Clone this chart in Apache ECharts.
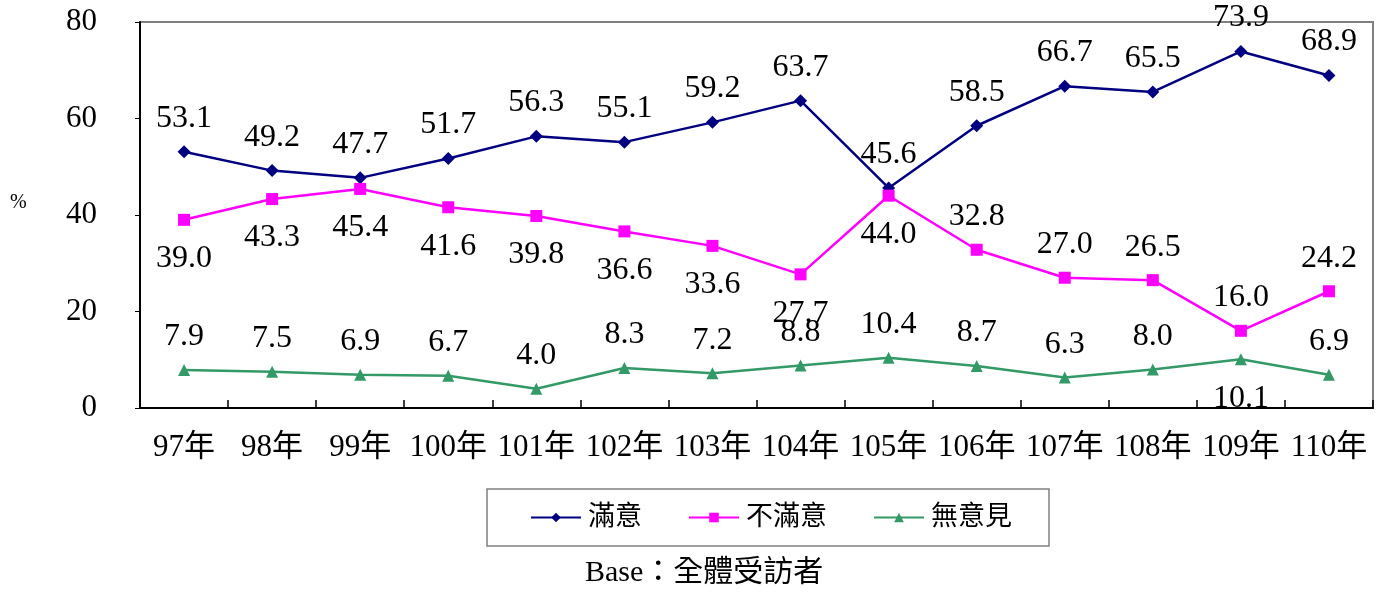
<!DOCTYPE html>
<html><head><meta charset="utf-8">
<script src="https://cdn.jsdelivr.net/npm/echarts@6/dist/echarts.min.js"></script>
<style>html,body{margin:0;padding:0;background:#fff}#c{width:1383px;height:594px}</style>
</head><body><div id="c"></div>
<script>
const categories = ['97年','98年','99年','100年','101年','102年','103年','104年','105年','106年','107年','108年','109年','110年'];
const satisfied = [53.1,49.2,47.7,51.7,56.3,55.1,59.2,63.7,45.6,58.5,66.7,65.5,73.9,68.9];
const dissatisfied = [39.0,43.3,45.4,41.6,39.8,36.6,33.6,27.7,44.0,32.8,27.0,26.5,16.0,24.2];
const noOpinion = [7.9,7.5,6.9,6.7,4.0,8.3,7.2,8.8,10.4,8.7,6.3,8.0,10.1,6.9];
const yTicks = [0,20,40,60,80];
const seriesNames = ['滿意','不滿意','無意見'];
// label placement per point
const satPos = ['top','top','top','top','top','top','top','top','top','top','top','top','top','top'];
const disPos = ['bottom','bottom','bottom','bottom','bottom','bottom','bottom','bottom','bottom','top','top','top','top','top'];
const noPos = ['top','top','top','top','top','top','top','top','top','top','top','top','bottom','top'];

const FONT = "'Liberation Serif', 'Noto Sans CJK TC', serif";
function mk(vals, pos){
  return vals.map((v,i)=>({value:v, label:{position:pos[i], distance: pos[i]==='top' ? 11 : 17}}));
}
const chart = echarts.init(document.getElementById('c'));
const labelBase = {show:true, fontFamily:FONT, fontSize:32, color:'#000', formatter:p=>p.value.toFixed(1)};
chart.setOption({
  animation:false,
  grid:{left:140, right:10, top:22, bottom:186, show:true, borderColor:'#808080', borderWidth:2, backgroundColor:'#fff'},
  xAxis:{type:'category', data:categories, boundaryGap:true,
    axisLine:{lineStyle:{color:'#000', width:2}},
    axisTick:{show:true, inside:true, interval:0, length:8, lineStyle:{color:'#000', width:1.5}},
    axisLabel:{fontFamily:FONT, fontSize:31, color:'#000', margin:24, interval:0}},
  yAxis:{type:'value', min:yTicks[0], max:yTicks[yTicks.length-1], interval:20,
    splitLine:{show:false},
    axisLine:{show:true, lineStyle:{color:'#000', width:2}},
    axisTick:{show:true, length:5, lineStyle:{color:'#000'}},
    axisLabel:{fontFamily:FONT, fontSize:31, color:'#000', margin:43}},
  legend:{data:seriesNames, left:487, top:489, orient:'horizontal',
    padding:[15,37,15,43], itemGap:46, itemWidth:50, itemHeight:12,
    borderColor:'#808080', borderWidth:1.5,
    textStyle:{fontFamily:FONT, fontSize:27, color:'#000', padding:[0,0,0,2]}},
  graphic:[
    {type:'text', left:585, top:558, style:{text:'Base：全體受訪者', font:"30px 'Liberation Serif','Noto Sans CJK TC'", fill:'#000'}},
    {type:'text', left:10, top:193, style:{text:'%', font:"20px 'Liberation Serif'", fill:'#000'}}
  ],
  series:[
    {name:seriesNames[0], type:'line', data:mk(satisfied,satPos), symbol:'diamond', symbolSize:13,
      itemStyle:{color:'#000080'}, lineStyle:{color:'#000080', width:2.5}, label:labelBase},
    {name:seriesNames[1], type:'line', data:mk(dissatisfied,disPos), symbol:'rect', symbolSize:12,
      itemStyle:{color:'#FF00FF'}, lineStyle:{color:'#FF00FF', width:2.5}, label:labelBase},
    {name:seriesNames[2], type:'line', data:mk(noOpinion,noPos), symbol:'triangle', symbolSize:12,
      itemStyle:{color:'#339966'}, lineStyle:{color:'#339966', width:2.5}, label:labelBase}
  ]
});
</script></body></html>
